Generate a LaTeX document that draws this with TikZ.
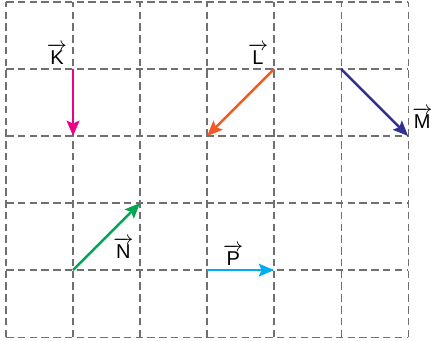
\documentclass[tikz,border=0pt]{standalone}
\usepackage{amsmath}
\usepackage{fontspec}
\setmainfont{Liberation Sans}
\usepackage{tikz}
\usetikzlibrary{arrows.meta,positioning}
\definecolor{gridgray}{RGB}{112,112,112}
\definecolor{vecK}{RGB}{236,0,140}
\definecolor{vecL}{RGB}{241,90,36}
\definecolor{vecM}{RGB}{46,49,146}
\definecolor{vecN}{RGB}{0,166,81}
\definecolor{vecP}{RGB}{0,174,239}
\tikzset{
  gridline/.style={draw=gridgray, line width=0.55pt, dash pattern=on 3.2pt off 1.8pt},
  vecarrow/.style={line width=1.05pt, -{Stealth[length=6.5pt,width=5.4pt,inset=1.2pt]}},
  veclabel/.style={inner sep=1pt, font=\fontsize{8.5}{10}\selectfont}
}

\begin{document}
\begin{tikzpicture}
\useasboundingbox (-0.09,-0.057) rectangle (6.37,5.03);
\draw[gridline] (0,0) grid (6,5);

\coordinate (kstart) at (1,4);
\coordinate (kend) at (1,3);
\coordinate (lstart) at (4,4);
\coordinate (lend) at (3,3);
\coordinate (mstart) at (5,4);
\coordinate (mend) at (6,3);
\coordinate (nstart) at (1,1);
\coordinate (nend) at (2,2);
\coordinate (pstart) at (3,1);
\coordinate (pend) at (4,1);

\draw[vecarrow, vecK] (kstart) -- (kend);
\draw[vecarrow, vecL] (lstart) -- (lend);
\draw[vecarrow, vecM] (mstart) -- (mend);
\draw[vecarrow, vecN] (nstart) -- (nend);
\draw[vecarrow, vecP] (pstart) -- (pend);

\node[veclabel] (labK) at (0.76,4.22) {$\overrightarrow{\text{K}}$};
\node[veclabel] (labL) at (3.76,4.22) {$\overrightarrow{\text{L}}$};
\node[veclabel] (labM) at (6.21,3.27) {$\overrightarrow{\text{M}}$};
\node[veclabel] (labN) at (1.75,1.33) {$\overrightarrow{\text{N}}$};
\node[veclabel] (labP) at (3.39,1.23) {$\overrightarrow{\text{P}}$};
\end{tikzpicture}
\end{document}
